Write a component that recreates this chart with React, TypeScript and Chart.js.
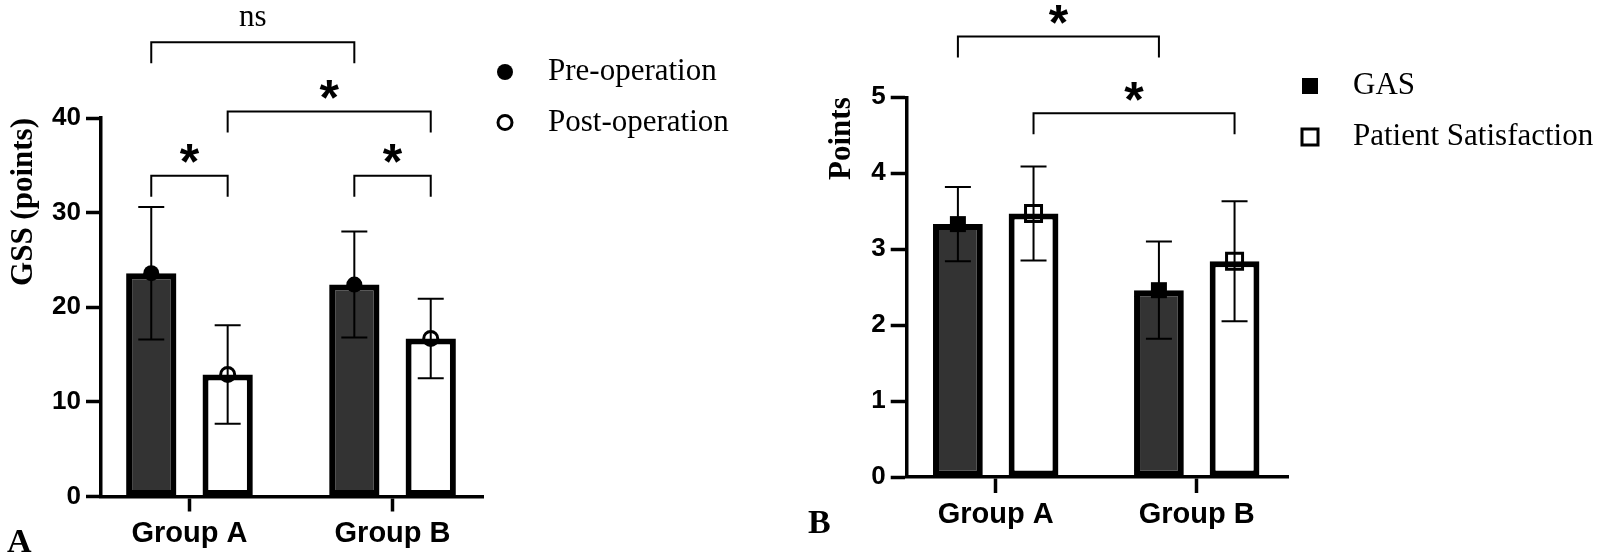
import { useEffect, useRef } from "react"
import { Chart, registerables, type ChartConfiguration, type Plugin } from "chart.js"

Chart.register(...registerables)

// Values (mean and SD per group)
const groups = ["Group A", "Group B"]

// Panel A: GSS score
const gssPre = [23.6, 22.4]
const gssPreSD = [7.0, 5.6]
const gssPost = [12.9, 16.7]
const gssPostSD = [5.2, 4.2]
const gssTicks = [0, 10, 20, 30, 40]

// Panel B: GAS and patient satisfaction
const gasScore = [3.33, 2.46]
const gasSD = [0.49, 0.64]
const satisfaction = [3.47, 2.84]
const satisfactionSD = [0.62, 0.79]
const pointTicks = [0, 1, 2, 3, 4, 5]

// Significance brackets: [dataset, group] -> [dataset, group], height in axis units
const gssBrackets: Bracket[] = [
  { from: [0, 0], to: [0, 1], level: 48.0, label: "ns" },
  { from: [1, 0], to: [1, 1], level: 40.7, label: "*" },
  { from: [0, 0], to: [1, 0], level: 33.9, label: "*" },
  { from: [0, 1], to: [1, 1], level: 33.9, label: "*" },
]
const pointBrackets: Bracket[] = [
  { from: [0, 0], to: [0, 1], level: 5.8, label: "*" },
  { from: [1, 0], to: [1, 1], level: 4.79, label: "*" },
]

type MarkerKind = "circle" | "circleOpen" | "square" | "squareOpen"

interface Series {
  label: string
  values: number[]
  sd: number[]
  fill: string
  marker: MarkerKind
}

interface Bracket {
  from: [number, number]
  to: [number, number]
  level: number
  label: string
}

interface Panel {
  width: number
  yMax: number
  ticks: number[]
  yTitle: string
  series: Series[]
  brackets: Bracket[]
  axisLeft: number
  plotRight: number
  plotTop: number
  plotBottom: number
  xMin: number
  xMax: number
  tickLength: number
  titlePad: number
  legendRows: number[]
  letter: { text: string; x: number; y: number }
}

const DARK = "#333333"

const panelA: Panel = {
  width: 780,
  yMax: 40,
  ticks: gssTicks,
  yTitle: "GSS (points)",
  series: [
    { label: "Pre-operation", values: gssPre, sd: gssPreSD, fill: DARK, marker: "circle" },
    { label: "Post-operation", values: gssPost, sd: gssPostSD, fill: "#ffffff", marker: "circleOpen" },
  ],
  brackets: gssBrackets,
  axisLeft: 101,
  plotRight: 483,
  plotTop: 118,
  plotBottom: 496.5,
  xMin: -0.4356,
  xMax: 1.4455,
  tickLength: 15,
  titlePad: 5,
  legendRows: [72, 122.5],
  letter: { text: "A", x: 7, y: 552 },
}

const panelB: Panel = {
  width: 819,
  yMax: 5,
  ticks: pointTicks,
  yTitle: "Points",
  series: [
    { label: "GAS", values: gasScore, sd: gasSD, fill: DARK, marker: "square" },
    { label: "Patient Satisfaction", values: satisfaction, sd: satisfactionSD, fill: "#ffffff", marker: "squareOpen" },
  ],
  brackets: pointBrackets,
  axisLeft: 126.7,
  plotRight: 508,
  plotTop: 97.3,
  plotBottom: 477,
  xMin: -0.4428,
  xMax: 1.454,
  tickLength: 16,
  titlePad: 43.1,
  legendRows: [86, 137],
  letter: { text: "B", x: 28, y: 533 },
}

function drawMarker(ctx: CanvasRenderingContext2D, kind: MarkerKind, x: number, y: number) {
  const open = kind.endsWith("Open")
  ctx.save()
  ctx.fillStyle = "#000"
  ctx.strokeStyle = "#000"
  ctx.lineWidth = 3
  ctx.beginPath()
  if (kind.startsWith("circle")) ctx.arc(x, y, open ? 7 : 8, 0, Math.PI * 2)
  else ctx.rect(x - 8, y - 8, 16, 16)
  if (open) ctx.stroke()
  else ctx.fill()
  ctx.restore()
}

// error bars, point markers, brackets, legend and panel letter
const figureExtras = (p: Panel): Plugin<"bar"> => ({
  id: "figureExtras",
  afterDatasetsDraw(chart) {
    const { ctx } = chart
    const yScale = chart.scales.y
    p.series.forEach((s, i) => {
      chart.getDatasetMeta(i).data.forEach((el, j) => {
        const { x, y } = el as unknown as { x: number; y: number }
        drawMarker(ctx, s.marker, x, y)
        const hi = yScale.getPixelForValue(s.values[j] + s.sd[j])
        const lo = yScale.getPixelForValue(s.values[j] - s.sd[j])
        ctx.save()
        ctx.strokeStyle = "#000"
        ctx.lineWidth = 2
        ctx.beginPath()
        ctx.moveTo(x, hi)
        ctx.lineTo(x, lo)
        ctx.moveTo(x - 13, hi)
        ctx.lineTo(x + 13, hi)
        ctx.moveTo(x - 13, lo)
        ctx.lineTo(x + 13, lo)
        ctx.stroke()
        ctx.restore()
      })
    })
  },
  afterDraw(chart) {
    const { ctx, chartArea } = chart
    const yScale = chart.scales.y
    ctx.save()
    ctx.strokeStyle = "#000"
    ctx.fillStyle = "#000"
    ctx.lineWidth = 2
    ctx.textAlign = "center"
    ctx.textBaseline = "alphabetic"
    for (const b of p.brackets) {
      const x1 = (chart.getDatasetMeta(b.from[0]).data[b.from[1]] as unknown as { x: number }).x
      const x2 = (chart.getDatasetMeta(b.to[0]).data[b.to[1]] as unknown as { x: number }).x
      const top = yScale.getPixelForValue(b.level)
      ctx.beginPath()
      ctx.moveTo(x1, top + 21)
      ctx.lineTo(x1, top)
      ctx.lineTo(x2, top)
      ctx.lineTo(x2, top + 21)
      ctx.stroke()
      const cx = (x1 + x2) / 2
      if (b.label === "*") {
        ctx.font = "bold 50px 'Liberation Sans', Arial, sans-serif"
        ctx.fillText("*", cx, top - 25 + 0.575 * 50)
      } else {
        ctx.font = "31px 'Liberation Serif', 'Times New Roman', serif"
        ctx.fillText(b.label, cx, top - 16)
      }
    }

    // legend to the right of the plot
    ctx.textAlign = "left"
    ctx.textBaseline = "middle"
    ctx.font = "31px 'Liberation Serif', 'Times New Roman', serif"
    p.series.forEach((s, i) => {
      const y = p.legendRows[i]
      drawMarker(ctx, s.marker, chartArea.right + 22, y)
      ctx.fillText(s.label, chartArea.right + 65, y)
    })

    // panel letter
    ctx.textBaseline = "alphabetic"
    ctx.font = "bold 34px 'Liberation Serif', 'Times New Roman', serif"
    ctx.fillText(p.letter.text, p.letter.x, p.letter.y)
    ctx.restore()
  },
})

function buildConfig(p: Panel): ChartConfiguration<"bar", { x: number; y: number }[]> {
  const tickFont = { family: "'Liberation Sans', Arial, sans-serif", size: 26, weight: "bold" as const }
  const axisGrid = {
    drawOnChartArea: false,
    drawTicks: true,
    tickLength: p.tickLength,
    tickWidth: 3.5,
    tickColor: "#000",
    offset: false,
  }
  const axisBorder = { display: true, width: 3.5, color: "#000" }

  return {
    type: "bar",
    data: {
      datasets: p.series.map((s) => ({
        label: s.label,
        data: s.values.map((y, i) => ({ x: i, y })),
        backgroundColor: s.fill,
        borderColor: "#000",
        borderWidth: 6,
        borderSkipped: false,
        categoryPercentage: 0.7525,
        barPercentage: 0.658,
      })),
    },
    options: {
      responsive: true,
      maintainAspectRatio: false,
      animation: false,
      events: [],
      layout: { padding: { top: p.plotTop, right: p.width - p.plotRight, bottom: 0, left: 0 } },
      scales: {
        x: {
          type: "linear",
          min: p.xMin,
          max: p.xMax,
          offset: false,
          afterBuildTicks: (s) => {
            s.ticks = groups.map((_, i) => ({ value: i }))
          },
          afterFit: (s) => {
            s.height = 555 - p.plotBottom
          },
          ticks: {
            callback: (v) => groups[Number(v)] ?? "",
            font: { ...tickFont, size: 29 },
            color: "#000",
            padding: 5,
            maxRotation: 0,
            autoSkip: false,
          },
          grid: axisGrid,
          border: axisBorder,
        },
        y: {
          type: "linear",
          min: 0,
          max: p.yMax,
          afterBuildTicks: (s) => {
            s.ticks = p.ticks.map((value) => ({ value }))
          },
          afterFit: (s) => {
            s.width = p.axisLeft
          },
          ticks: { font: tickFont, color: "#000", padding: 5 },
          grid: axisGrid,
          border: axisBorder,
          title: {
            display: true,
            text: p.yTitle,
            align: "end",
            color: "#000",
            font: { family: "'Liberation Serif', 'Times New Roman', serif", size: 31, weight: "bold" },
            padding: { top: p.titlePad, bottom: 0 },
          },
        },
      },
      plugins: {
        legend: { display: false },
        tooltip: { enabled: false },
      },
    },
    plugins: [figureExtras(p)],
  }
}

function PanelChart({ panel, left }: { panel: Panel; left: number }) {
  const canvasRef = useRef<HTMLCanvasElement>(null)

  useEffect(() => {
    if (!canvasRef.current) return
    const chart = new Chart(canvasRef.current, buildConfig(panel))
    return () => chart.destroy()
  }, [panel])

  return (
    <div style={{ position: "absolute", left, top: 0, width: panel.width, height: 555 }}>
      <canvas ref={canvasRef} />
    </div>
  )
}

export default function App() {
  return (
    <div style={{ position: "absolute", left: 0, top: 0, width: 1599, height: 555, background: "#fff", overflow: "hidden" }}>
      <PanelChart panel={panelA} left={0} />
      <PanelChart panel={panelB} left={780} />
    </div>
  )
}
